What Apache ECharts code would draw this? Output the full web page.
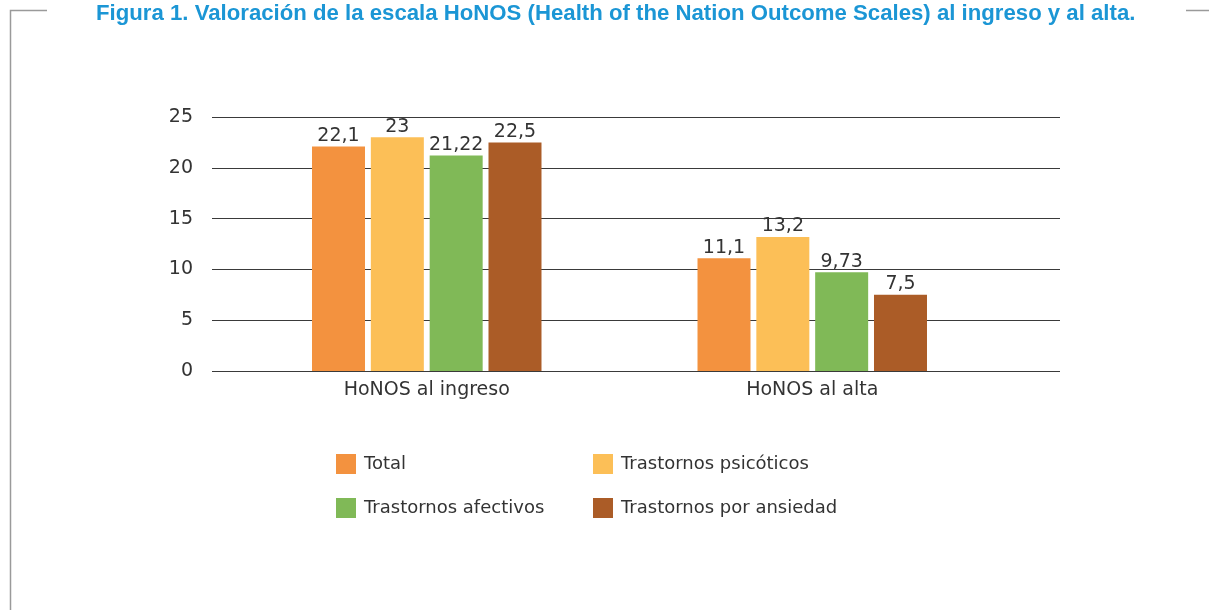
<!DOCTYPE html>
<html><head><meta charset="utf-8">
<script src="https://cdn.jsdelivr.net/npm/echarts@6/dist/echarts.min.js"></script>
<style>html,body{margin:0;padding:0;background:#fff}#c{width:1209px;height:610px}</style>
</head><body><div id="c"></div>
<script>
const categories = ['HoNOS al ingreso', 'HoNOS al alta'];
const seriesNames = ['Total', 'Trastornos psicóticos', 'Trastornos afectivos', 'Trastornos por ansiedad'];
const totalValues = [22.1, 11.1];
const psicoticosValues = [23, 13.2];
const afectivosValues = [21.22, 9.73];
const ansiedadValues = [22.5, 7.5];
const yTicks = [0, 5, 10, 15, 20, 25];
const colors = ['#F3923F', '#FCBF57', '#80B957', '#AB5C27'];
const titleText = 'Figura 1. Valoración de la escala HoNOS (Health of the Nation Outcome Scales) al ingreso y al alta.';

const font = 'DejaVu Sans';
const values = [totalValues, psicoticosValues, afectivosValues, ansiedadValues];
const chart = echarts.init(document.getElementById('c'));
const gTop = 117, gBottom = 610 - 371;
chart.setOption({
  animation: false,
  title: { text: titleText, left: 91, top: -2,
    textStyle: { color: '#1B96D5', fontFamily: 'Liberation Sans', fontWeight: 'bold', fontSize: 22.2 } },
  graphic: [
    { type: 'polyline', shape: { points: [[47, 10.5], [10.5, 10.5], [10.5, 610]] }, style: { stroke: '#9a9a9a', lineWidth: 1.5, fill: null } },
    { type: 'line', shape: { x1: 1186, y1: 10.5, x2: 1209, y2: 10.5 }, style: { stroke: '#9a9a9a', lineWidth: 1.5 } }
  ],
  legend: [
    { data: [seriesNames[0], seriesNames[2]], orient: 'vertical', left: 331, top: 449, itemWidth: 20, itemHeight: 20, itemGap: 24,
      icon: 'rect', textStyle: { fontFamily: font, fontSize: 18, color: '#333', padding: [0, 0, 0, 3] } },
    { data: [seriesNames[1], seriesNames[3]], orient: 'vertical', left: 588, top: 449, itemWidth: 20, itemHeight: 20, itemGap: 24,
      icon: 'rect', textStyle: { fontFamily: font, fontSize: 18, color: '#333', padding: [0, 0, 0, 3] } }
  ],
  grid: [
    { left: 212, right: 1209 - 1060, top: gTop, bottom: gBottom },
    { left: 234, right: 1209 - 1005, top: gTop, bottom: gBottom }
  ],
  xAxis: [
    { gridIndex: 0, type: 'category', data: categories, show: false },
    { gridIndex: 1, type: 'category', data: categories,
      axisLine: { show: false }, axisTick: { show: false },
      axisLabel: { fontFamily: font, fontSize: 19, color: '#333', margin: 10 } }
  ],
  yAxis: [
    { gridIndex: 0, type: 'value', min: yTicks[0], max: yTicks[yTicks.length - 1], interval: 5,
      axisLine: { show: false }, axisTick: { show: false },
      axisLabel: { fontFamily: font, fontSize: 19, color: '#333', margin: 19 },
      splitLine: { lineStyle: { color: '#3a3a3a', width: 1 } } },
    { gridIndex: 1, type: 'value', min: yTicks[0], max: yTicks[yTicks.length - 1], interval: 5, show: false,
      splitLine: { show: false } }
  ],
  series: values.map((v, i) => ({
    name: seriesNames[i], type: 'bar', xAxisIndex: 1, yAxisIndex: 1,
    data: v, barWidth: 53, barGap: '11%',
    itemStyle: { color: colors[i] },
    label: { show: true, position: 'top', distance: 1, fontFamily: font, fontSize: 19, color: '#333',
      formatter: p => String(p.value).replace('.', ',') }
  }))
});
</script></body></html>
